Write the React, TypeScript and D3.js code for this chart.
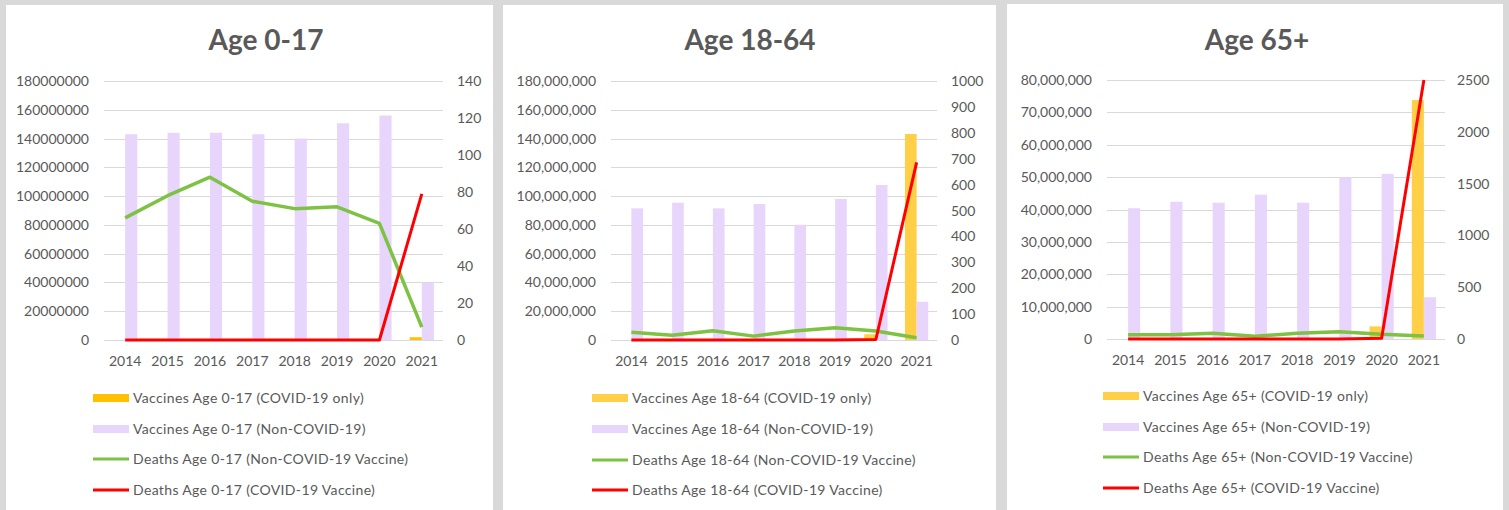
import React from 'react';
import * as d3 from 'd3';

const years = ['2014', '2015', '2016', '2017', '2018', '2019', '2020', '2021'];

// Age 0-17
const vaxCovid017 = [0, 0, 0, 0, 0, 0, 0, 1900000];
const vaxNonCovid017 = [143000000, 144000000, 144000000, 143000000, 140000000, 150600000, 156000000, 39800000];
const deathsNonCovid017 = [66, 78, 88, 75, 71, 72, 63, 7];
const deathsCovid017 = [0, 0, 0, 0, 0, 0, 0, 79];

// Age 18-64
const vaxCovid1864 = [0, 0, 0, 0, 0, 0, 4000000, 143200000];
const vaxNonCovid1864 = [91500000, 95400000, 91500000, 94500000, 80100000, 98000000, 107700000, 26600000];
const deathsNonCovid1864 = [30, 18, 36, 15, 35, 47, 35, 9];
const deathsCovid1864 = [0, 0, 0, 0, 0, 0, 2, 686];

// Age 65+
const vaxCovid65 = [0, 0, 0, 0, 0, 0, 3900000, 73800000];
const vaxNonCovid65 = [40400000, 42400000, 42100000, 44600000, 42100000, 49900000, 51000000, 12900000];
const deathsNonCovid65 = [42, 42, 55, 26, 55, 70, 45, 30];
const deathsCovid65 = [0, 0, 0, 0, 0, 0, 8, 2500];

const leftTicks017 = [0, 20000000, 40000000, 60000000, 80000000, 100000000, 120000000, 140000000, 160000000, 180000000];
const rightTicks017 = [0, 20, 40, 60, 80, 100, 120, 140];
const leftTicks1864 = [0, 20000000, 40000000, 60000000, 80000000, 100000000, 120000000, 140000000, 160000000, 180000000];
const rightTicks1864 = [0, 100, 200, 300, 400, 500, 600, 700, 800, 900, 1000];
const leftTicks65 = [0, 10000000, 20000000, 30000000, 40000000, 50000000, 60000000, 70000000, 80000000];
const rightTicks65 = [0, 500, 1000, 1500, 2000, 2500];

const titles = ['Age 0-17', 'Age 18-64', 'Age 65+'];
const groupLabels = ['0-17', '18-64', '65+'];

const FONT = "Lato, 'Open Sans', sans-serif";
const TXT = '#595959';
const PURPLE = '#E8D5FB';
const GREEN = '#7DC242';
const RED = '#FF0000';

interface PanelCfg {
  title: string;
  group: string;
  titleX: number;
  panel: [number, number, number, number];
  plot: [number, number, number, number]; // x0,x1,y0(top),y1(bottom)
  leftLabelX: number;
  rightLabelX: number;
  leftTicks: number[];
  rightTicks: number[];
  leftFmt: (n: number) => string;
  covid: number[];
  nonCovid: number[];
  dNon: number[];
  dCov: number[];
  orange: string;
  legendSwatchX: number;
  legendY: number[];
}

const panels: PanelCfg[] = [
  {
    title: titles[0], group: groupLabels[0], titleX: 266,
    panel: [6, 5, 487, 505], plot: [104, 443, 81, 340],
    leftLabelX: 89, rightLabelX: 457,
    leftTicks: leftTicks017, rightTicks: rightTicks017, leftFmt: d3.format('d'),
    covid: vaxCovid017, nonCovid: vaxNonCovid017, dNon: deathsNonCovid017, dCov: deathsCovid017,
    orange: '#FFC000', legendSwatchX: 93, legendY: [398, 429, 459, 490],
  },
  {
    title: titles[1], group: groupLabels[1], titleX: 750,
    panel: [503, 5, 493, 505], plot: [611, 937, 81, 340],
    leftLabelX: 596, rightLabelX: 951,
    leftTicks: leftTicks1864, rightTicks: rightTicks1864, leftFmt: d3.format(','),
    covid: vaxCovid1864, nonCovid: vaxNonCovid1864, dNon: deathsNonCovid1864, dCov: deathsCovid1864,
    orange: '#FFCF47', legendSwatchX: 592, legendY: [398, 429, 460, 490],
  },
  {
    title: titles[2], group: groupLabels[2], titleX: 1257,
    panel: [1007, 4, 496, 506], plot: [1107, 1445, 80, 339],
    leftLabelX: 1092, rightLabelX: 1457,
    leftTicks: leftTicks65, rightTicks: rightTicks65, leftFmt: d3.format(','),
    covid: vaxCovid65, nonCovid: vaxNonCovid65, dNon: deathsNonCovid65, dCov: deathsCovid65,
    orange: '#FFCF47', legendSwatchX: 1103, legendY: [396, 427, 457, 488],
  },
];

function Panel({ c }: { c: PanelCfg }) {
  const [x0, x1, yTop, yBot] = c.plot;
  const x = d3.scaleBand<string>().domain(years).range([x0, x1]).paddingInner(0).paddingOuter(0);
  const yL = d3.scaleLinear().domain([0, d3.max(c.leftTicks) as number]).range([yBot, yTop]);
  const yR = d3.scaleLinear().domain([0, d3.max(c.rightTicks) as number]).range([yBot, yTop]);
  const bw = x.bandwidth() / 3.5;
  const cx = (y: string) => (x(y) as number) + x.bandwidth() / 2;
  const line = d3.line<number>().x((_, i) => cx(years[i])).y((d) => yR(d));
  const [px, py, pw, ph] = c.panel;
  const legend = [
    { label: `Vaccines Age ${c.group} (COVID-19 only)`, color: c.orange, kind: 'bar' },
    { label: `Vaccines Age ${c.group} (Non-COVID-19)`, color: PURPLE, kind: 'bar' },
    { label: `Deaths Age ${c.group} (Non-COVID-19 Vaccine)`, color: GREEN, kind: 'line' },
    { label: `Deaths Age ${c.group} (COVID-19 Vaccine)`, color: RED, kind: 'line' },
  ];
  return (
    <g>
      <rect x={px} y={py} width={pw} height={ph} fill="#fff" />
      <text x={c.titleX} y={50} textAnchor="middle" fontFamily={FONT} fontWeight={700} fontSize={28} fill={TXT}>
        {c.title}
      </text>
      {c.leftTicks.map((t) => (
        <g key={'l' + t}>
          <line x1={x0} x2={x1} y1={Math.round(yL(t)) + 0.5} y2={Math.round(yL(t)) + 0.5} stroke="#d9d9d9" strokeWidth={1} />
          <text x={c.leftLabelX} y={yL(t) + 5} textAnchor="end" fontFamily={FONT} fontSize={14} fill={TXT}>
            {c.leftFmt(t)}
          </text>
        </g>
      ))}
      {c.rightTicks.map((t) => (
        <text key={'r' + t} x={c.rightLabelX} y={yR(t) + 5} textAnchor="start" fontFamily={FONT} fontSize={14} fill={TXT}>
          {t}
        </text>
      ))}
      {years.map((yr, i) => (
        <g key={yr}>
          {c.covid[i] > 0 && (
            <rect x={cx(yr) - bw} y={yL(c.covid[i])} width={bw} height={yBot - yL(c.covid[i])} fill={c.orange} />
          )}
          <rect x={cx(yr)} y={yL(c.nonCovid[i])} width={bw} height={yBot - yL(c.nonCovid[i])} fill={PURPLE} />
          <text x={cx(yr)} y={yBot + 26} textAnchor="middle" fontFamily={FONT} fontSize={14} fill={TXT}>
            {yr}
          </text>
        </g>
      ))}
      <path d={line(c.dNon) as string} fill="none" stroke={GREEN} strokeWidth={3.5} strokeLinejoin="round" />
      <path d={line(c.dCov) as string} fill="none" stroke={RED} strokeWidth={3} strokeLinejoin="round" />
      {legend.map((l, i) => (
        <g key={l.label}>
          {l.kind === 'bar' ? (
            <rect x={c.legendSwatchX} y={c.legendY[i] - 4} width={36} height={8} fill={l.color} />
          ) : (
            <line x1={c.legendSwatchX} x2={c.legendSwatchX + 36} y1={c.legendY[i]} y2={c.legendY[i]} stroke={l.color} strokeWidth={3} />
          )}
          <text x={c.legendSwatchX + 40} y={c.legendY[i] + 5} fontFamily={FONT} fontSize={14} letterSpacing={0.35} fill={TXT}>
            {l.label}
          </text>
        </g>
      ))}
    </g>
  );
}

export default function App() {
  return (
    <svg width={1509} height={510} style={{ position: 'absolute', left: 0, top: 0, display: 'block' }}>
      <rect x={0} y={0} width={1509} height={510} fill="#d9d9d9" />
      {panels.map((c) => (
        <Panel key={c.title} c={c} />
      ))}
    </svg>
  );
}
